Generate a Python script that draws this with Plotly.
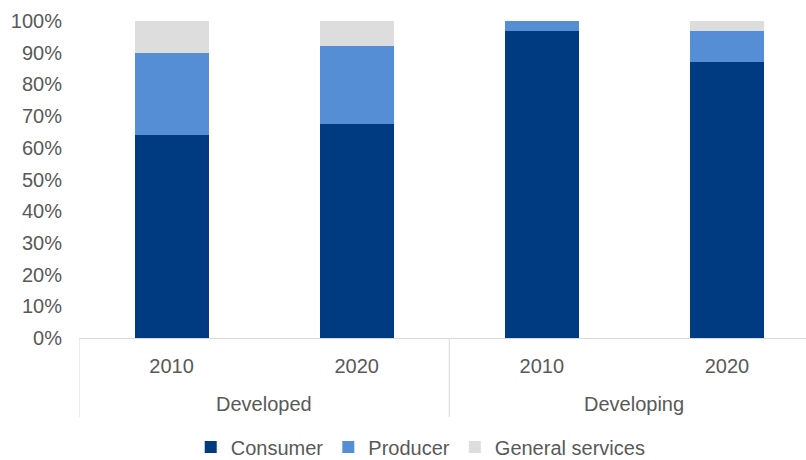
import plotly.graph_objects as go

group_names = ["Developed", "Developing"]
groups = ["Developed", "Developed", "Developing", "Developing"]
years = ["2010", "2020", "2010", "2020"]
consumer = [64, 67.5, 97, 87]
producer = [26, 24.5, 3, 10]
general = [10, 8, 0, 3]

colors = {"Consumer": "#003A80", "Producer": "#558ED5", "General services": "#DDDDDD"}
FONT = "Liberation Sans"
GREY = "#595959"
LINE = "#D9D9D9"

xpos = list(range(len(years)))

fig = go.Figure()
for name, vals in [("Consumer", consumer), ("Producer", producer), ("General services", general)]:
    fig.add_trace(go.Bar(x=xpos, y=vals, name=name, width=0.4,
                         marker=dict(color=colors[name], line=dict(width=0))))

# group labels and dividers
for gi, g in enumerate(group_names):
    idx = [i for i, gg in enumerate(groups) if gg == g]
    fig.add_annotation(x=sum(idx) / len(idx), xref="x", y=-0.208, yref="paper",
                       text=g, showarrow=False, yanchor="middle",
                       font=dict(size=20, color=GREY, family=FONT))
    fig.add_shape(type="line", xref="x", yref="paper", x0=idx[0] - 0.5, x1=idx[0] - 0.5,
                  y0=0, y1=-0.249, line=dict(color=LINE, width=1))

fig.update_layout(
    barmode="stack",
    width=806, height=460,
    margin=dict(l=79, r=0, t=21, b=122, autoexpand=False),
    paper_bgcolor="white", plot_bgcolor="white",
    font=dict(family=FONT, size=20, color=GREY),
    legend=dict(orientation="h", xref="container", x=0.522, xanchor="center",
                yref="container", y=0.028, yanchor="middle",
                font=dict(size=20, color=GREY), itemwidth=30, traceorder="normal"),
    xaxis=dict(range=[-0.5, 3.427], tickvals=xpos, ticktext=years, showline=True,
               linecolor=LINE, linewidth=1, ticks="outside", ticklen=10, tickcolor="rgba(0,0,0,0)",
               showgrid=False, zeroline=False, automargin=False,
               tickfont=dict(size=20, color=GREY)),
    yaxis=dict(range=[0, 100], dtick=10, ticksuffix="%", showgrid=False, zeroline=False,
               showline=False, ticklabelstandoff=16, automargin=False,
               tickfont=dict(size=20, color=GREY)),
)

fig.write_html("out.html")
